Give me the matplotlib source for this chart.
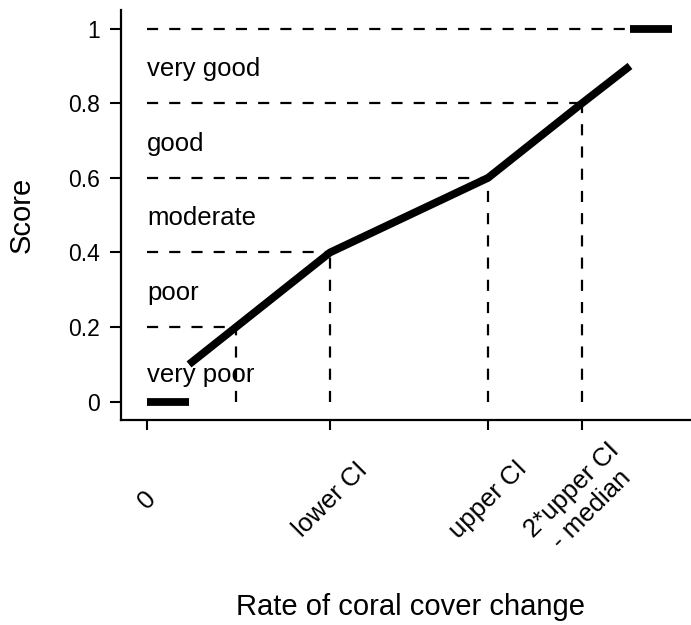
import matplotlib
matplotlib.use("Agg")
import matplotlib.pyplot as plt

plt.rcParams['font.family'] = ['Liberation Sans', 'DejaVu Sans']

# ---- data (x in arbitrary units of rate of coral cover change) ----
tick_x = [0.0, 1.83, 3.41, 4.35]
tick_labels = ["0", "lower CI", "upper CI", "2*upper CI\n- median"]

line_x = [0.42, 1.83, 3.41, 4.35, 4.83]
line_y = [0.1, 0.4, 0.6, 0.8, 0.9]

low_seg_x = [0.0, 0.42]
low_seg_y = [0.0, 0.0]
high_seg_x = [4.83, 5.25]
high_seg_y = [1.0, 1.0]

guide_x = [0.89, 1.83, 3.41, 4.35, 4.83]   # dashed guide end points
guide_y = [0.2, 0.4, 0.6, 0.8, 1.0]
vguide_n = 4                               # vertical guides for first four

class_labels = ["very good", "good", "moderate", "poor", "very poor"]
class_label_y = [0.873, 0.673, 0.474, 0.273, 0.054]

y_ticks = [0, 0.2, 0.4, 0.6, 0.8, 1.0]
y_ticklabels = ["0", "0.2", "0.4", "0.6", "0.8", "1"]

# ---- figure ----
W, H = 691, 625
fig = plt.figure(figsize=(W / 100, H / 100), dpi=100)
ax = fig.add_axes([121 / W, 1 - 420 / H, 580 / W, 410 / H])
ax.set_xlim(-0.26, 5.54)
ax.set_ylim(-0.049, 1.050)

dash = dict(color='black', lw=1.6, linestyle=(0, (5, 5)))
for gx, gy in zip(guide_x, guide_y):
    ax.plot([0, gx], [gy, gy], **dash)
for gx, gy in list(zip(guide_x, guide_y))[:vguide_n]:
    ax.plot([gx, gx], [0, gy], **dash)

solid = dict(color='black', lw=5.6, solid_capstyle='butt', solid_joinstyle='round')
ax.plot(line_x, line_y, **solid)
ax.plot(low_seg_x, low_seg_y, **solid)
ax.plot(high_seg_x, high_seg_y, **solid)

for lab, ly in zip(class_labels, class_label_y):
    ax.text(0.0, ly, lab, ha='left', va='baseline', fontsize=18.5, color='black')

# spines
for s in ['top', 'right']:
    ax.spines[s].set_visible(False)
for s in ['left', 'bottom']:
    ax.spines[s].set_linewidth(1.6)

ax.set_yticks(y_ticks, y_ticklabels)
ax.tick_params(axis='y', length=8, width=1.5, pad=7, labelsize=16.5, direction='out')
ax.set_xticks(tick_x, tick_labels, rotation=45, ha='center', va='center',
              rotation_mode='anchor', multialignment='center')
ax.tick_params(axis='x', length=7.5, width=1.5, pad=50, labelsize=18.5, direction='out')

ax.set_xlabel("Rate of coral cover change", fontsize=21, va='center')
ax.xaxis.set_label_coords(0.5, (420 - 607) / 410)
ax.set_ylabel("Score", fontsize=21, va='center')
ax.yaxis.set_label_coords((22 - 121) / 580, 0.5)

fig.savefig("out.png", dpi=100)
